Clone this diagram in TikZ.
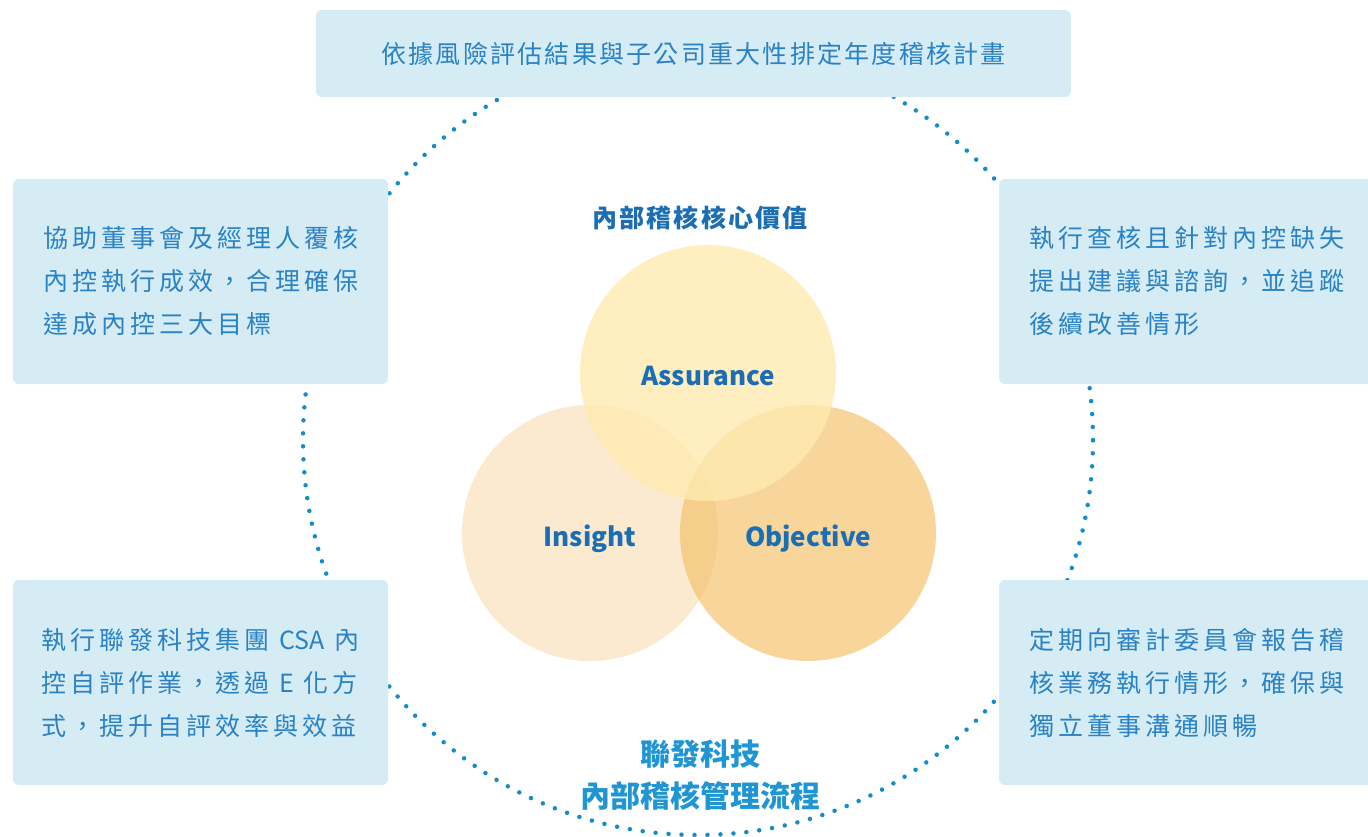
\documentclass[tikz,border=0pt]{standalone}
\usepackage{fontspec}
\setmainfont{Noto Sans CJK TC}
\newfontfamily\boxfont[LetterSpace=16]{Noto Sans CJK TC}
\newfontfamily\valuefont[LetterSpace=9]{Noto Sans CJK TC}
\newfontfamily\plainfont{Noto Sans CJK TC}
\usetikzlibrary{positioning}
\definecolor{auditBox}{HTML}{D5ECF4}
\definecolor{auditText}{HTML}{2A82C6}
\definecolor{auditDot}{HTML}{148CC8}
\definecolor{auditTitle}{HTML}{1B6EB4}
\definecolor{auditFlow}{HTML}{1F96D3}
\definecolor{assureFill}{RGB}{254,234,176}
\definecolor{insightFill}{RGB}{251,234,208}
\definecolor{objectFill}{RGB}{244,195,112}

\begin{document}
\begin{tikzpicture}[x=1pt,y=-1pt,
  infobox/.style={fill=auditBox, rounded corners=6pt, inner sep=0pt, text=auditText,
    minimum height=205pt, align=left, font=\boxfont\fontsize{25}{43}\selectfont},
  valuering/.style={circle, minimum size=256pt, inner sep=0pt},
  valuelabel/.style={text=auditTitle, font=\fontsize{26}{30}\selectfont\bfseries}]
\clip (0,0) rectangle (1368,836);
% dotted process ring, boxes sit on it
\node[circle, minimum size=790pt, inner sep=0pt, draw=auditDot, line width=4.5pt,
  line cap=round, dash pattern=on 0pt off 12.994pt] (ring) at (698,440) {};

\node[infobox, minimum width=755pt, align=center,
  font=\valuefont\fontsize{25}{30}\selectfont, minimum height=87pt] (plan) at (693.5,53.5)
  {依據風險評估結果與子公司重大性排定年度稽核計畫};
\node[infobox, minimum width=375pt] (board) at (200.5,281.5)
  {協助董事會及經理人覆核\\內控執行成效，合理確保\\達成內控三大目標};
\node[infobox, minimum width=375pt] (csa) at (200.5,682.5)
  {執行聯發科技集團 {\plainfont CSA} 內\\控自評作業，透過 {\plainfont E} 化方\\式，提升自評效率與效益};
\node[infobox, minimum width=376pt] (advise) at (1187,281.5)
  {執行查核且針對內控缺失\\提出建議與諮詢，並追蹤\\後續改善情形};
\node[infobox, minimum width=376pt] (report) at (1187,682.5)
  {定期向審計委員會報告稽\\核業務執行情形，確保與\\獨立董事溝通順暢};

% core values
\node[valuering, fill=insightFill] (insight) at (590,533) {};
\node[valuering, fill=objectFill, fill opacity=0.7] (objective) at (808,533) {};
\node[valuering, fill=assureFill, fill opacity=0.8] (assure) at (708,373) {};
\node[valuelabel] (assureLbl) at ([yshift=-3pt]assure.center) {Assurance};
\node[valuelabel] (insightLbl) at ([yshift=-6pt]insight.center) {Insight};
\node[valuelabel] (objectLbl) at ([yshift=-6pt]objective.center) {Objective};
\node[text=auditTitle, font=\valuefont\fontsize{25}{30}\selectfont\bfseries] (values) at (700,218) {內部稽核核心價值};

\node[text=auditFlow, align=center, font=\fontsize{30}{42}\selectfont\bfseries] (flow) at (700,775)
  {聯發科技\\內部稽核管理流程};
\end{tikzpicture}
\end{document}
